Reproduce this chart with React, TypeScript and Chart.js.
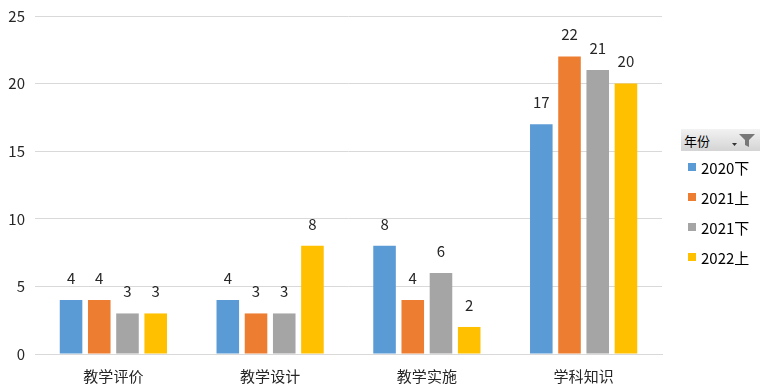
import React, { useEffect, useRef } from "react";
import { Chart, registerables } from "chart.js";

Chart.register(...registerables);

const categories = ["教学评价", "教学设计", "教学实施", "学科知识"];
const seriesNames = ["2020下", "2021上", "2021下", "2022上"];
const s2020b = [4, 4, 8, 17];
const s2021a = [4, 3, 4, 22];
const s2021b = [3, 3, 6, 21];
const s2022a = [3, 8, 2, 20];
const seriesColors = ["#5B9BD5", "#ED7D31", "#A5A5A5", "#FFC000"];
const yTicks = [0, 5, 10, 15, 20, 25];

const FONT = '"Noto Sans CJK SC", "Noto Sans", sans-serif';

const labelPlugin = {
  id: "barLabels",
  afterDatasetsDraw(chart: any) {
    const ctx = chart.ctx;
    ctx.save();
    ctx.font = `15px ${FONT}`;
    ctx.fillStyle = "#262626";
    ctx.textAlign = "center";
    ctx.textBaseline = "middle";
    chart.data.datasets.forEach((ds: any, i: number) => {
      const meta = chart.getDatasetMeta(i);
      meta.data.forEach((bar: any, j: number) => {
        ctx.fillText(String(ds.data[j]), bar.x, bar.y - 22);
      });
    });
    ctx.restore();
  },
};

export default function App() {
  const ref = useRef<HTMLCanvasElement>(null);
  useEffect(() => {
    const data = [s2020b, s2021a, s2021b, s2022a];
    const chart = new Chart(ref.current!, {
      type: "bar",
      data: {
        labels: categories,
        datasets: seriesNames.map((n, i) => ({
          label: n,
          data: data[i],
          backgroundColor: seriesColors[i],
          borderWidth: 0,
          categoryPercentage: 0.72,
          barPercentage: 0.8,
        })),
      },
      options: {
        animation: false,
        responsive: false,
        maintainAspectRatio: false,
        layout: { padding: { top: 16, right: 104, left: 0, bottom: 0 } },
        plugins: { legend: { display: false }, tooltip: { enabled: false } },
        scales: {
          x: {
            grid: { display: false, drawTicks: false },
            border: { display: true, color: "#D9D9D9" },
            ticks: { font: { size: 15, family: FONT }, color: "#262626", padding: 13 },
            afterFit: (s: any) => { s.height = 36; },
          },
          y: {
            min: 0,
            max: 25,
            afterBuildTicks: (s: any) => { s.ticks = yTicks.map((v) => ({ value: v })); },
            grid: { color: "#D9D9D9", drawTicks: false },
            border: { display: false },
            ticks: { font: { size: 15, family: FONT, lineHeight: 1 }, color: "#262626", padding: 10 },
            afterFit: (s: any) => { s.width = 35; s.paddingTop = 0; s.paddingBottom = 0; },
          },
        },
      },
      plugins: [labelPlugin],
    });
    return () => chart.destroy();
  }, []);

  return (
    <div style={{ position: "fixed", left: 0, top: 0, width: 766, height: 390, background: "#fff", fontFamily: FONT }}>
      <canvas ref={ref} width={766} height={390} style={{ position: "absolute", left: 0, top: 0 }} />
      <div
        style={{
          position: "absolute", left: 681, top: 129, width: 79, height: 22,
          background: "linear-gradient(#f2f2f2, #d4d4d4)", boxSizing: "border-box",
          display: "flex", alignItems: "center", fontSize: 13, color: "#000",
        }}
      >
        <span style={{ marginLeft: 3 }}>年份</span>
        <svg width="30" height="18" style={{ marginLeft: "auto", marginRight: 2 }} viewBox="0 0 30 18">
          <polygon points="4,12 9,12 6.5,15" fill="#333" />
          <polygon points="11,3 27,3 21,9 21,16 17,14 17,9" fill="#777" />
        </svg>
      </div>
      {seriesNames.map((n, i) => (
        <div key={n} style={{ position: "absolute", left: 688, top: 158 + i * 30, height: 18, display: "flex", alignItems: "center", fontSize: 15, color: "#000" }}>
          <span style={{ width: 8, height: 8, background: seriesColors[i], display: "inline-block", marginRight: 5 }} />
          <span>{n}</span>
        </div>
      ))}
    </div>
  );
}
